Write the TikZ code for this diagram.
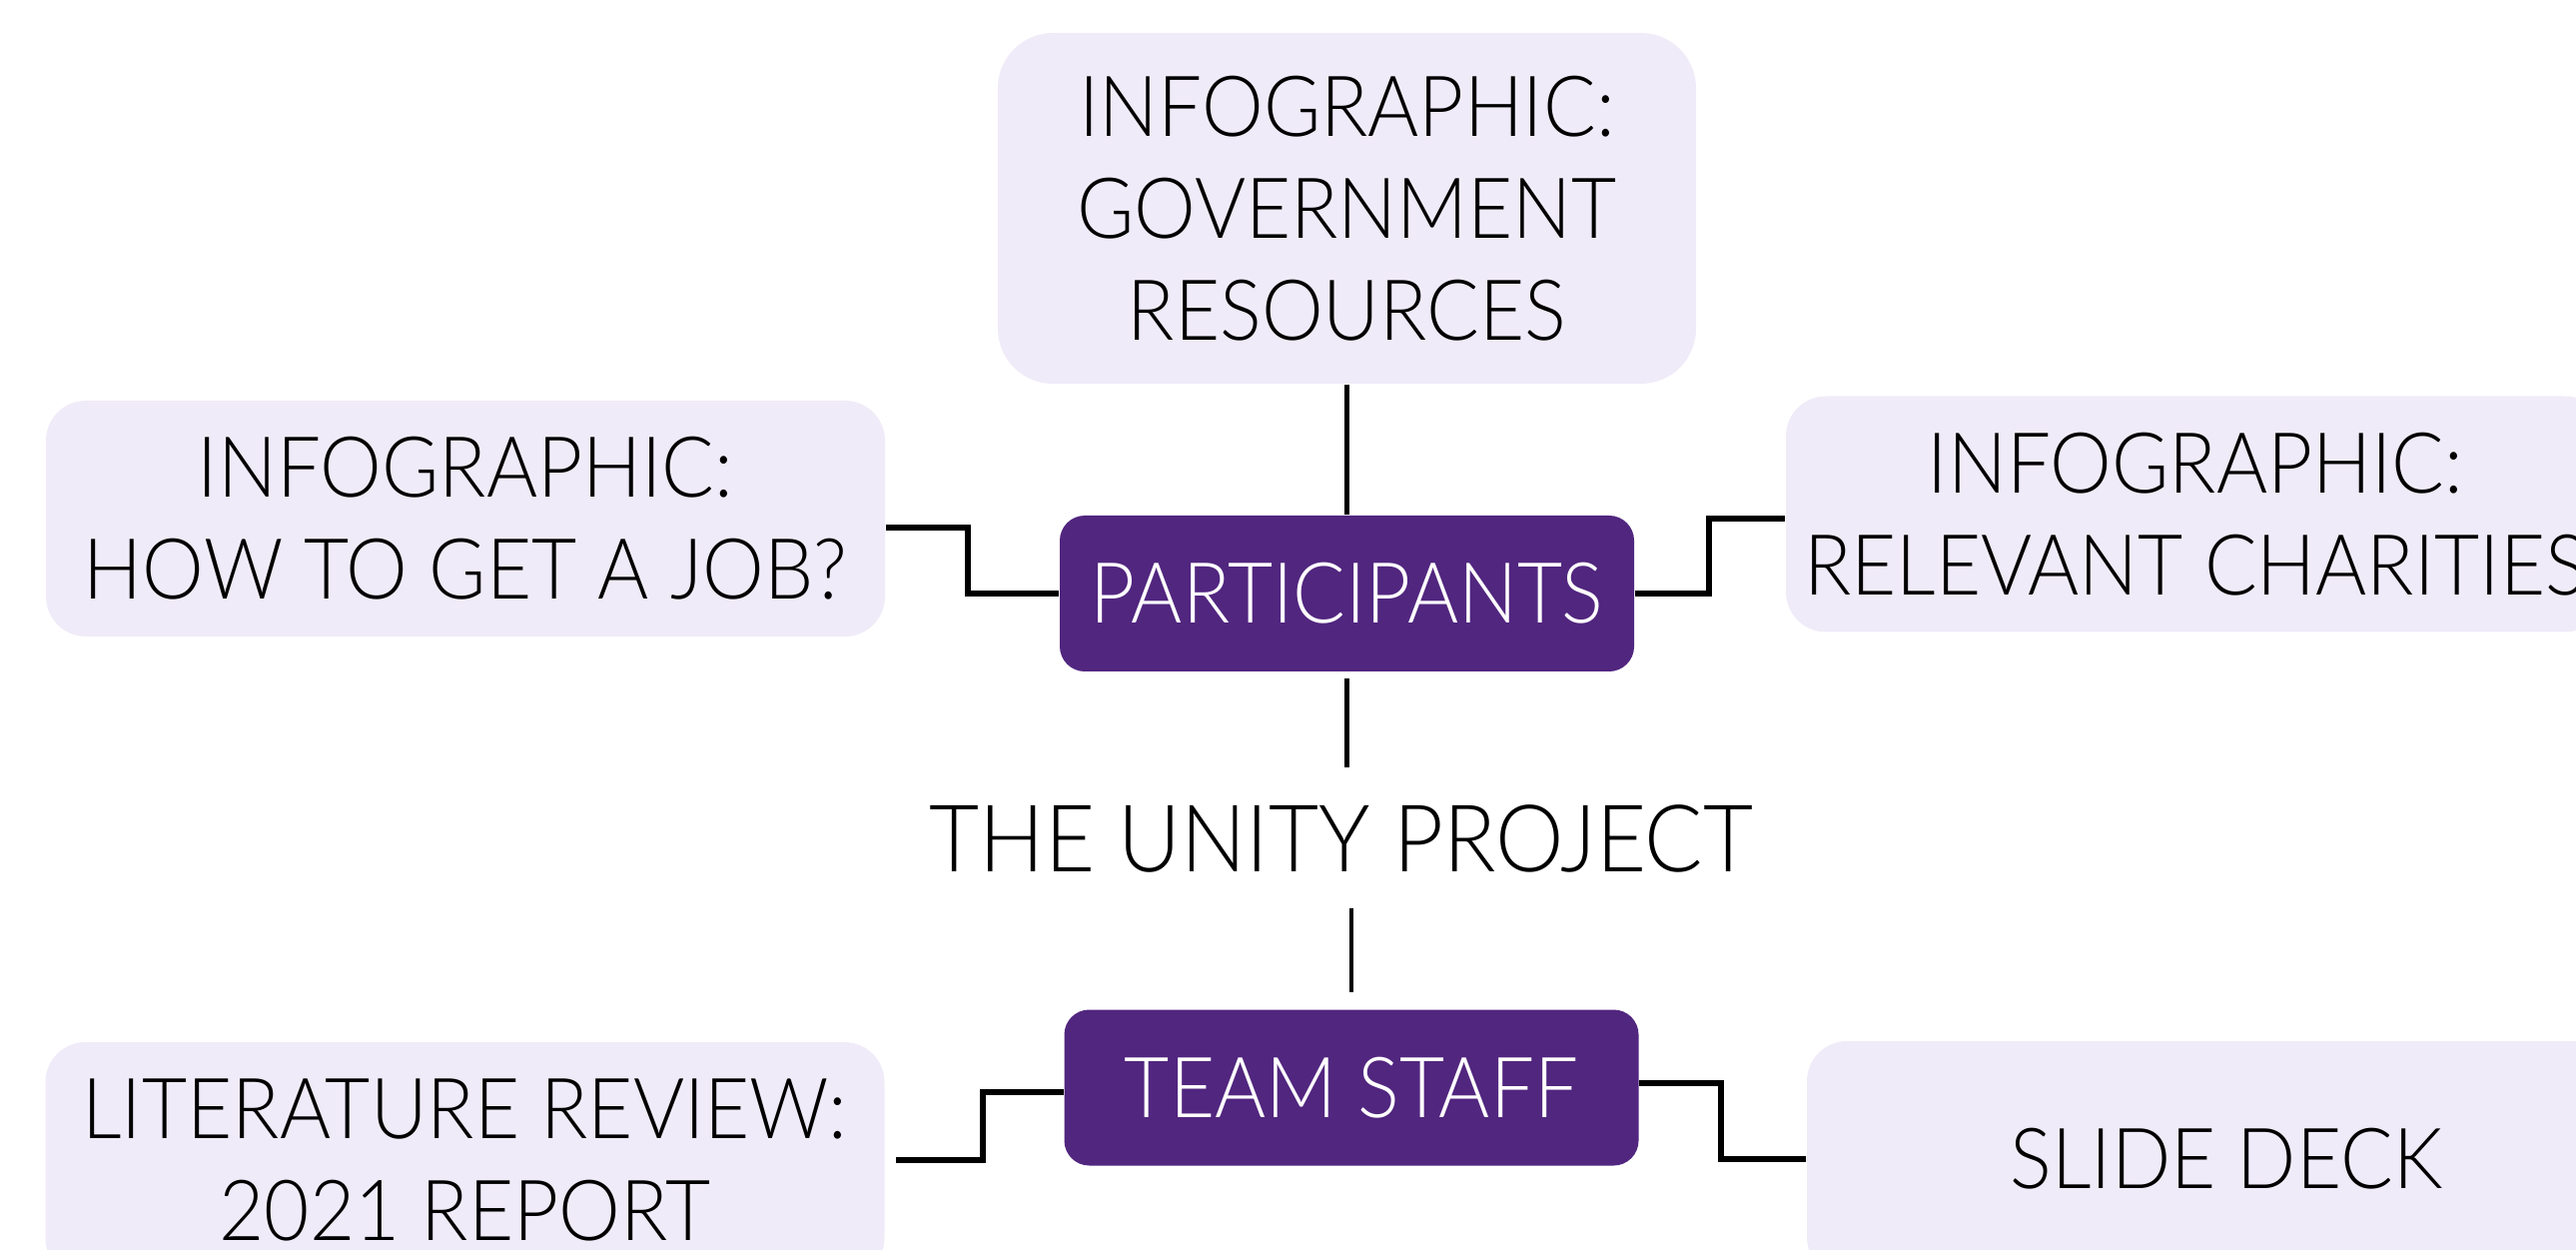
\documentclass[tikz,border=0pt]{standalone}
\usepackage{fontspec}
\setmainfont{Lato}[UprightFont={* Light}, FakeStretch=0.925]
\usepackage{tikz}
\usetikzlibrary{positioning}

\definecolor{lavender}{HTML}{F0EBF8}
\definecolor{unitypurple}{HTML}{51267F}

\begin{document}
\begin{tikzpicture}[
    leafbox/.style={rectangle, rounded corners=0.4cm, fill=lavender, align=center, text centered, inner sep=0pt, minimum width=8.4cm, minimum height=2.36cm, font=\fontsize{24}{29}\selectfont},
    hubbox/.style={rectangle, rounded corners=0.25cm, fill=unitypurple, text=white, text centered, inner sep=0pt, minimum width=5.75cm, minimum height=1.56cm, font=\fontsize{24}{29}\selectfont},
    link/.style={line width=1.3pt},
    elbow/.style={line width=1.7pt}
]

    \useasboundingbox (0,0) rectangle (25.79,-12.51);

    % Node for the project title in the middle
    \node (unity) [text height=0.67cm, text depth=0pt, inner xsep=0pt, inner ysep=0.36cm, font=\fontsize{26.6}{32}\selectfont] at (13.43,-8.385) {THE UNITY PROJECT};

    % Nodes for the two groups, above and below the title
    \node (participants) [hubbox] at (13.485,-5.94) {PARTICIPANTS};
    \node (teamstaff) [hubbox] at (13.53,-10.885) {TEAM STAFF};

    % Nodes for the outputs round each group
    \node (govres) [leafbox, rounded corners=0.55cm, minimum width=6.99cm, minimum height=3.51cm] at (13.485,-2.085) {INFOGRAPHIC:\\ GOVERNMENT\\ RESOURCES};
    \node (howjob) [leafbox] at (4.66,-5.19) {INFOGRAPHIC:\\ HOW TO GET A JOB?};
    \node (charities) [leafbox, minimum width=8.2cm] at (21.98,-5.145) {INFOGRAPHIC:\\ RELEVANT CHARITIES};
    \node (litreview) [leafbox] at (4.655,-11.61) {LITERATURE REVIEW:\\ 2021 REPORT};
    \node (slidedeck) [leafbox] at (22.29,-11.6) {SLIDE DECK};

    % Draw lines from the title to the groups
    \draw[link] (govres) -- (participants);
    \draw[link, shorten <=0.06cm] (participants.south) -- (participants.south |- unity.north);
    \draw[link, shorten >=0.17cm] (unity.south -| teamstaff.north) -- (teamstaff.north);

    % Draw elbow lines from the groups to the outputs
    \draw[elbow] ([yshift=-0.09cm]howjob.east) -- ++(0.82,0) |- (participants.west);
    \draw[elbow] (participants.east) -- ++(0.74,0) |- ([yshift=-0.045cm]charities.west);
    \draw[elbow] ([xshift=0.11cm]litreview.east) -- ++(0.87,0) |- ([yshift=-0.045cm]teamstaff.west);
    \draw[elbow] ([yshift=0.045cm]teamstaff.east) -- ++(0.82,0) |- (slidedeck.west);

\end{tikzpicture}
\end{document}
